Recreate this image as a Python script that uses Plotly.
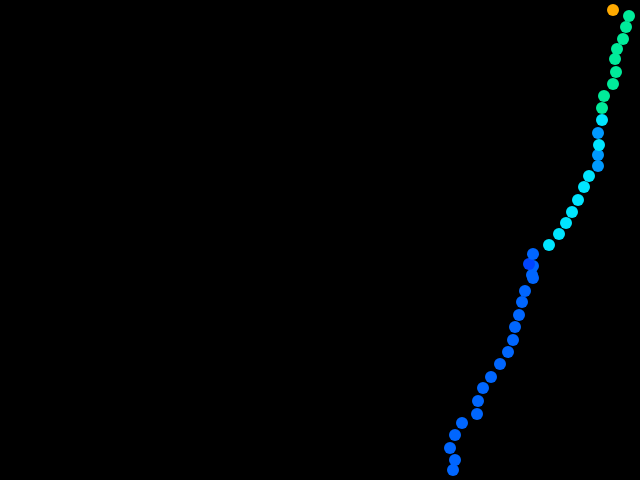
import plotly.graph_objects as go

# Trajectory points (x to the right, y upward, 640x480 frame)
x_vals = [453, 455, 450, 455, 462, 477, 478, 483, 491, 500, 508, 513, 515, 519, 522, 525,
          533, 532, 533, 529, 533, 549, 559, 566, 572, 578, 584, 589, 598, 598, 599, 598,
          602, 602, 604, 613, 616, 615, 617, 623, 626, 629, 613]
y_vals = [10, 20, 32, 45, 57, 66, 79, 92, 103, 116, 128, 140, 153, 165, 178, 189,
          202, 205, 214, 216, 226, 235, 246, 257, 268, 280, 293, 304, 314, 325, 335, 347,
          360, 372, 384, 396, 408, 421, 431, 441, 453, 464, 470]
# colour class of each point: 0 deep blue, 1 blue, 2 azure, 3 cyan, 4 green, 5 orange
level = [1, 1, 1, 1, 1, 1, 1, 1, 1, 1, 1, 1, 1, 1, 1, 1,
         1, 1, 1, 0, 1, 3, 3, 3, 3, 3, 3, 3, 2, 2, 3, 2,
         3, 4, 4, 4, 4, 4, 4, 4, 4, 4, 5]

colorscale = [
    [0.0, "#0044ff"], [0.1, "#0044ff"],
    [0.1, "#0066ff"], [0.3, "#0066ff"],
    [0.3, "#0099ff"], [0.5, "#0099ff"],
    [0.5, "#00e5ff"], [0.7, "#00e5ff"],
    [0.7, "#00eb9a"], [0.9, "#00eb9a"],
    [0.9, "#ffaa00"], [1.0, "#ffaa00"],
]

fig = go.Figure(go.Scatter(
    x=x_vals, y=y_vals, mode="markers",
    marker=dict(size=12, color=level, cmin=0, cmax=5, colorscale=colorscale,
                line=dict(width=0), opacity=1),
    showlegend=False, hoverinfo="skip",
))

fig.update_layout(
    width=640, height=480,
    margin=dict(l=0, r=0, t=0, b=0),
    paper_bgcolor="black", plot_bgcolor="black",
    xaxis=dict(range=[0, 640], visible=False, fixedrange=True),
    yaxis=dict(range=[0, 480], visible=False, fixedrange=True),
)

fig.write_html(
    "out.html",
    config={"displayModeBar": False},
    post_script="document.body.style.margin='0';document.body.style.background='black';",
)
